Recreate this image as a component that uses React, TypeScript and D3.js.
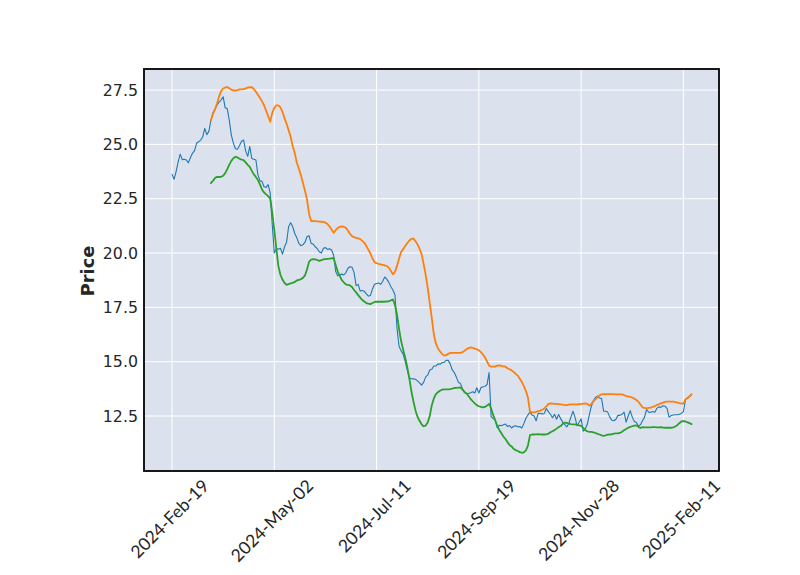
import React, { useEffect, useRef } from 'react';
import * as d3 from 'd3';

const tickIndex = [0, 50, 100, 150, 200, 250];
const tickLabels = ['2024-Feb-19', '2024-May-02', '2024-Jul-11', '2024-Sep-19', '2024-Nov-28', '2025-Feb-11'];
const yTicks = [12.5, 15.0, 17.5, 20.0, 22.5, 25.0, 27.5];

const closePrice = [
  23.62, 23.40, 23.75, 24.20, 24.55, 24.30, 24.32, 24.28, 24.15, 24.40,
  24.59, 24.71, 25.05, 25.12, 25.20, 25.35, 25.74, 25.45, 25.60, 26.10,
  26.45, 26.60, 26.81, 26.95, 27.05, 27.19, 26.68, 26.65, 26.10, 25.43,
  25.06, 24.80, 24.78, 24.95, 25.15, 25.20, 24.70, 24.45, 24.90, 24.35,
  24.32, 24.28, 23.60, 23.32, 23.30, 23.05, 23.02, 23.15, 22.76, 21.30,
  20.00, 20.20, 20.18, 20.22, 19.95, 20.29, 20.50, 21.21, 21.40, 21.21,
  20.90, 20.70, 20.45, 20.34, 20.38, 20.50, 20.75, 20.80, 20.45, 20.41,
  20.29, 20.20, 20.06, 20.00, 20.22, 20.25, 20.17, 20.20, 20.14, 19.90,
  19.15, 18.95, 18.99, 19.03, 18.99, 19.10, 19.30, 19.37, 19.35, 19.10,
  18.50, 18.56, 18.25, 18.28, 18.24, 18.12, 18.02, 18.05, 18.35, 18.56,
  18.60, 18.62, 18.56, 18.70, 18.90, 18.80, 18.65, 18.45, 18.30, 18.07,
  16.53, 15.70, 15.50, 15.35, 15.00, 14.62, 14.25, 14.22, 14.21, 14.19,
  14.12, 14.03, 13.92, 14.05, 14.30, 14.38, 14.62, 14.65, 14.80, 14.80,
  14.90, 14.88, 14.95, 14.97, 15.06, 15.06, 14.90, 14.62, 14.50, 14.30,
  14.05, 14.00, 13.75, 13.58, 13.54, 13.54, 13.57, 13.62, 13.56, 13.80,
  13.56, 13.80, 13.85, 13.86, 13.95, 14.50, 12.47, 12.38, 12.31, 11.95,
  12.08, 12.05, 12.10, 12.13, 12.02, 12.06, 11.95, 12.03, 12.05, 12.00,
  12.02, 11.95, 12.15, 12.40, 12.55, 12.68, 12.55, 12.50, 12.28, 12.62,
  12.62, 12.60, 12.62, 12.85, 12.70, 12.58, 12.42, 12.58, 12.35, 12.57,
  12.38, 12.22, 12.10, 12.00, 12.16, 12.45, 12.72, 12.45, 12.05, 12.20,
  12.37, 11.80, 11.90, 12.12, 12.55, 12.95, 13.20, 13.35, 13.42, 13.33,
  13.30, 12.72, 12.72, 12.68, 12.45, 12.31, 12.28, 12.35, 12.53, 12.53,
  12.58, 12.68, 12.22, 12.50, 12.75, 12.45, 12.25, 12.20, 12.04, 12.10,
  12.28, 12.45, 12.80, 12.68, 12.67, 12.71, 12.67, 12.85, 12.92, 12.90,
  12.97, 12.95, 12.85, 12.45, 12.52, 12.55, 12.56, 12.56, 12.58, 12.62,
  12.70, 13.25, 13.34, 13.42, 13.50,
];

const bandStart = 19;

const upperBand = [
  26.10,
  26.40, 26.62, 26.88, 27.20, 27.45, 27.57, 27.62, 27.64, 27.58, 27.52,
  27.48, 27.48, 27.50, 27.53, 27.53, 27.54, 27.58, 27.61, 27.64, 27.63,
  27.55, 27.42, 27.28, 27.14, 26.98, 26.80, 26.55, 26.30, 26.04, 26.45,
  26.68, 26.80, 26.80, 26.70, 26.50, 26.20, 25.95, 25.65, 25.35, 24.92,
  24.60, 24.17, 23.88, 23.58, 23.24, 22.87, 22.45, 21.80, 21.47, 21.47,
  21.47, 21.46, 21.45, 21.44, 21.43, 21.40, 21.34, 21.22, 21.08, 20.93,
  21.05, 21.15, 21.21, 21.23, 21.21, 21.16, 21.04, 20.88, 20.78, 20.73,
  20.70, 20.68, 20.64, 20.56, 20.47, 20.32, 20.15, 19.98, 19.75, 19.58,
  19.53, 19.50, 19.48, 19.46, 19.43, 19.40, 19.32, 19.18, 19.02, 19.14,
  19.41, 19.75, 20.05, 20.18, 20.32, 20.45, 20.58, 20.65, 20.67, 20.55,
  20.40, 20.20, 19.95, 19.50, 19.00, 18.40, 17.70, 17.00, 16.25, 15.84,
  15.61, 15.48, 15.36, 15.28, 15.30, 15.36, 15.40, 15.41, 15.41, 15.41,
  15.41, 15.41, 15.44, 15.50, 15.57, 15.63, 15.66, 15.64, 15.60, 15.57,
  15.52, 15.44, 15.33, 15.20, 15.02, 14.82, 14.77, 14.77, 14.78, 14.82,
  14.83, 14.81, 14.79, 14.77, 14.70, 14.65, 14.60, 14.53, 14.44, 14.36,
  14.22, 14.07, 13.88, 13.65, 13.35, 12.70, 12.67, 12.67, 12.69, 12.73,
  12.75, 12.79, 12.85, 12.95, 13.06, 13.08, 13.07, 13.06, 13.06, 13.05,
  13.04, 13.02, 13.00, 13.00, 13.02, 13.04, 13.04, 13.04, 13.04, 13.05,
  13.05, 13.07, 13.08, 13.06, 12.98, 13.05, 13.18, 13.27, 13.38, 13.45,
  13.50, 13.51, 13.51, 13.51, 13.51, 13.51, 13.51, 13.50, 13.50, 13.50,
  13.50, 13.46, 13.42, 13.40, 13.38, 13.35, 13.30, 13.24, 13.16, 13.03,
  12.90, 12.87, 12.85, 12.87, 12.89, 12.92, 12.96, 13.00, 13.04, 13.08,
  13.12, 13.15, 13.16, 13.16, 13.16, 13.16, 13.14, 13.12, 13.09, 13.07,
  13.07, 13.26, 13.32, 13.40, 13.50,
];

const lowerBand = [
  23.22,
  23.32, 23.45, 23.51, 23.50, 23.51, 23.56, 23.68, 23.86, 24.07, 24.24,
  24.36, 24.43, 24.40, 24.34, 24.30, 24.28, 24.17, 24.06, 23.97, 23.78,
  23.62, 23.50, 23.36, 23.16, 22.93, 22.79, 22.70, 22.62, 22.50, 21.85,
  21.06, 20.20, 19.40, 19.00, 18.78, 18.62, 18.54, 18.57, 18.60, 18.63,
  18.67, 18.74, 18.76, 18.80, 18.86, 18.97, 19.25, 19.60, 19.70, 19.72,
  19.71, 19.68, 19.64, 19.67, 19.71, 19.72, 19.73, 19.74, 19.76, 19.77,
  19.45, 19.15, 18.95, 18.75, 18.65, 18.56, 18.53, 18.51, 18.44, 18.30,
  18.19, 18.06, 17.95, 17.84, 17.77, 17.70, 17.67, 17.65, 17.70, 17.75,
  17.76, 17.76, 17.76, 17.76, 17.76, 17.77, 17.78, 17.82, 17.86, 17.61,
  17.15, 16.50, 15.95, 15.55, 15.18, 14.75, 14.25, 13.65, 13.18, 12.77,
  12.47, 12.28, 12.12, 12.03, 12.06, 12.20, 12.50, 13.00, 13.31, 13.51,
  13.60, 13.66, 13.71, 13.73, 13.73, 13.73, 13.74, 13.76, 13.79, 13.80,
  13.81, 13.82, 13.72, 13.60, 13.54, 13.41, 13.28, 13.18, 13.08, 13.00,
  12.95, 12.92, 12.90, 12.92, 12.98, 13.06, 12.85, 12.55, 12.30, 12.05,
  11.86, 11.71, 11.56, 11.44, 11.30, 11.17, 11.10, 10.99, 10.93, 10.89,
  10.84, 10.81, 10.83, 10.92, 11.14, 11.62, 11.65, 11.65, 11.66, 11.67,
  11.66, 11.65, 11.65, 11.66, 11.69, 11.75, 11.80, 11.85, 11.92, 11.99,
  12.04, 12.14, 12.20, 12.18, 12.15, 12.13, 12.12, 12.12, 12.09, 12.07,
  12.05, 11.95, 11.85, 11.80, 11.77, 11.77, 11.75, 11.72, 11.68, 11.65,
  11.61, 11.59, 11.61, 11.64, 11.65, 11.66, 11.69, 11.70, 11.70, 11.72,
  11.78, 11.85, 11.90, 11.96, 12.00, 12.03, 12.06, 12.07, 12.00, 11.95,
  11.99, 11.98, 11.98, 11.98, 11.98, 11.99, 11.99, 11.98, 11.98, 11.99,
  11.97, 11.96, 11.96, 11.96, 11.96, 11.98, 12.02, 12.08, 12.17, 12.25,
  12.27, 12.25, 12.21, 12.17, 12.13,
];

export default function App() {
  const ref = useRef<SVGSVGElement>(null);

  useEffect(() => {
    const svg = d3.select(ref.current);
    svg.selectAll('*').remove();
    const L = 144, R = 719, T = 69, B = 471;
    const font = '"DejaVu Sans", sans-serif';
    const xFont = 'Lato, "DejaVu Sans", sans-serif';
    const textColor = '#262626';

    const x = d3.scaleLinear().domain([-13.7, 267.4]).range([L, R]);
    const y = d3.scaleLinear().domain([9.97, 28.47]).range([B, T]);

    svg.append('rect').attr('x', 0).attr('y', 0).attr('width', 800).attr('height', 575).attr('fill', '#ffffff');
    svg.append('rect').attr('x', L).attr('y', T).attr('width', R - L).attr('height', B - T).attr('fill', '#dce2ed');

    const grid = svg.append('g').attr('stroke', '#ffffff').attr('stroke-width', 1);
    yTicks.forEach((t) => {
      grid.append('line').attr('x1', L).attr('x2', R).attr('y1', y(t)).attr('y2', y(t));
    });
    tickIndex.forEach((t) => {
      grid.append('line').attr('x1', x(t)).attr('x2', x(t)).attr('y1', T).attr('y2', B);
    });

    const clip = svg.append('defs').append('clipPath').attr('id', 'plotclip');
    clip.append('rect').attr('x', L).attr('y', T).attr('width', R - L).attr('height', B - T);

    const mk = (start: number) =>
      d3.line<number>().x((_, i) => x(start + i)).y((d) => y(d));

    const g = svg.append('g').attr('clip-path', 'url(#plotclip)').attr('fill', 'none')
      .attr('stroke-linejoin', 'round').attr('stroke-linecap', 'round');
    g.append('path').attr('d', mk(0)(closePrice)).attr('stroke', '#1f77b4').attr('stroke-width', 1.1);
    g.append('path').attr('d', mk(bandStart)(upperBand)).attr('stroke', '#ff7f0e').attr('stroke-width', 1.8);
    g.append('path').attr('d', mk(bandStart)(lowerBand)).attr('stroke', '#2ca02c').attr('stroke-width', 1.8);

    svg.append('rect').attr('x', L).attr('y', T).attr('width', R - L).attr('height', B - T)
      .attr('fill', 'none').attr('stroke', '#000').attr('stroke-width', 1.8);

    yTicks.forEach((t) => {
      svg.append('text').attr('x', 138).attr('y', y(t)).attr('dy', '0.36em')
        .attr('text-anchor', 'end').attr('font-family', font).attr('font-size', 15.8)
        .attr('fill', textColor).text(t.toFixed(1));
    });

    tickIndex.forEach((t, k) => {
      const txt = svg.append('text').attr('font-family', xFont).attr('font-size', 17.5)
        .attr('fill', textColor).attr('text-anchor', 'end').text(tickLabels[k]);
      const node = txt.node() as SVGTextElement;
      const w = node.getComputedTextLength();
      const ax = x(t) + 0.354 * w + 2;
      const ay = 487;
      txt.attr('transform', `translate(${ax},${ay}) rotate(-45)`);
    });

    svg.append('text').attr('transform', `translate(94,${(T + B) / 2 + 1}) rotate(-90)`)
      .attr('text-anchor', 'middle').attr('font-family', font).attr('font-size', 17.8)
      .attr('font-weight', 'bold').attr('fill', textColor).text('Price');
  }, []);

  return (
    <svg ref={ref} width={800} height={575}
      style={{ position: 'absolute', left: 0, top: 0, display: 'block' }} />
  );
}
